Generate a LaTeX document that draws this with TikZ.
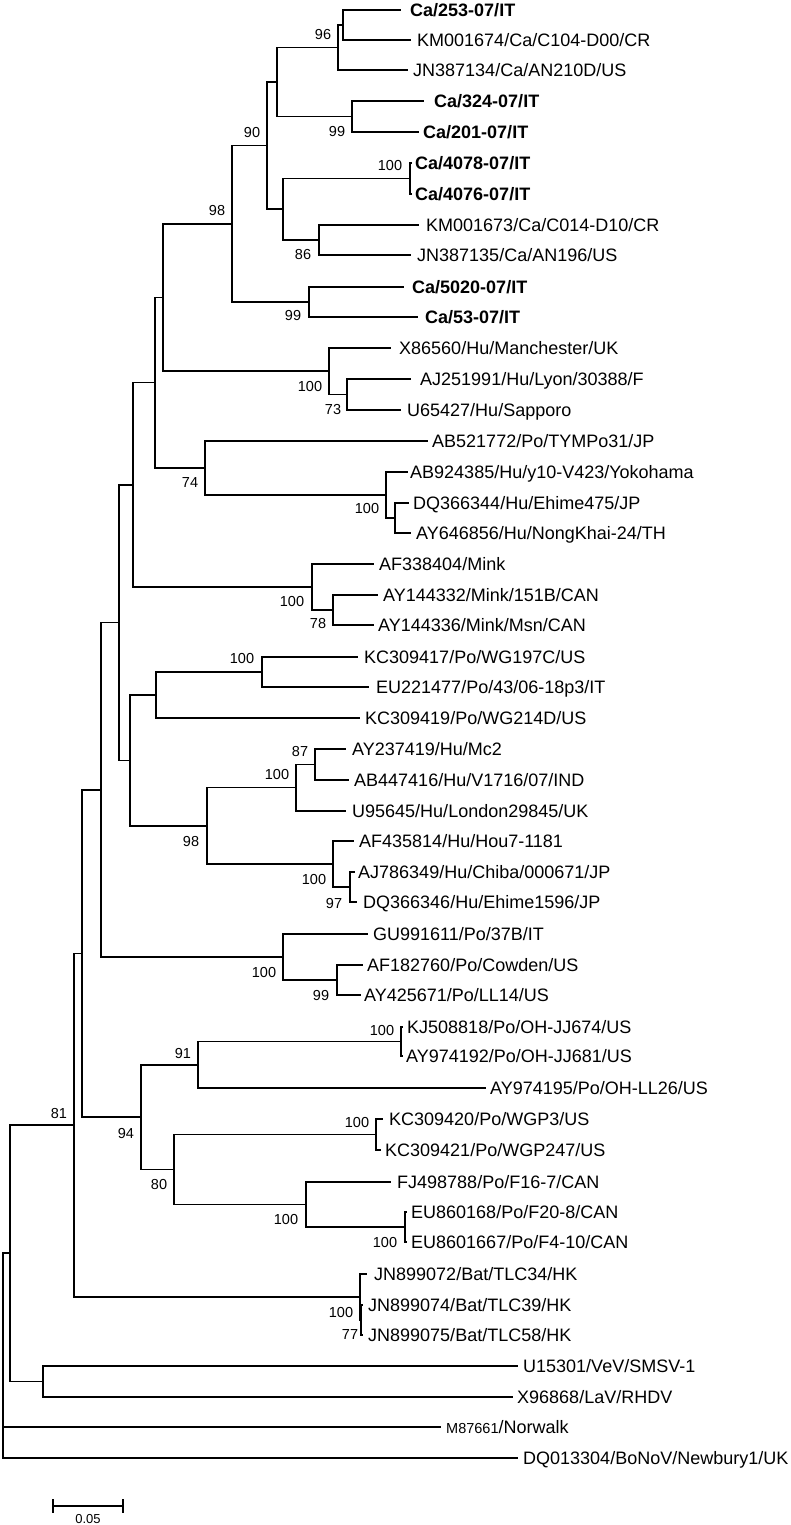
\documentclass[tikz,border=0pt]{standalone}
\usepackage{fontspec}
\setmainfont{Liberation Sans}
\tikzset{
  br/.style={line width=1.2pt, line cap=rect},
  lab/.style={anchor=base west, inner sep=0pt, font=\fontsize{18}{20}\selectfont},
  blab/.style={anchor=base west, inner sep=0pt, font=\fontsize{18}{20}\selectfont\bfseries},
  boot/.style={inner sep=0pt, font=\fontsize{14.5}{16}\selectfont},
}
\newcommand\lf[5]{\coordinate (#1) at (#2,#3);\node[lab] (#1t) at (#4,#3+6.5) {#5};}
\newcommand\blf[5]{\coordinate (#1) at (#2,#3);\node[blab] (#1t) at (#4,#3+6.5) {#5};}
\begin{document}
\begin{tikzpicture}[x=1pt,y=-1pt]
\useasboundingbox (0,0) rectangle (790,1525);
% leaves
\blf{L1}{400}{10}{410}{Ca/253-07/IT}
\lf{L2}{410}{40}{417}{KM001674/Ca/C104-D00/CR}
\lf{L3}{407}{70}{413}{JN387134/Ca/AN210D/US}
\blf{L4}{423}{101}{434}{Ca/324-07/IT}
\blf{L5}{418}{132}{423}{Ca/201-07/IT}
\blf{L6}{411}{163}{415}{Ca/4078-07/IT}
\blf{L7}{411}{194}{415}{Ca/4076-07/IT}
\lf{L8}{418}{225}{426}{KM001673/Ca/C014-D10/CR}
\lf{L9}{410}{255}{417}{JN387135/Ca/AN196/US}
\blf{L10}{403}{287}{412}{Ca/5020-07/IT}
\blf{L11}{417}{317}{425}{Ca/53-07/IT}
\lf{L12}{390}{348}{399}{X86560/Hu/Manchester/UK}
\lf{L13}{410}{379}{420}{AJ251991/Hu/Lyon/30388/F}
\lf{L14}{400}{410}{407}{U65427/Hu/Sapporo}
\lf{L15}{427}{441}{432}{AB521772/Po/TYMPo31/JP}
\lf{L16}{407}{472}{410}{AB924385/Hu/y10-V423/Yokohama}
\lf{L17}{408}{503}{413}{DQ366344/Hu/Ehime475/JP}
\lf{L18}{410}{533}{416}{AY646856/Hu/NongKhai-24/TH}
\lf{L19}{373}{564}{379}{AF338404/Mink}
\lf{L20}{377}{595}{383}{AY144332/Mink/151B/CAN}
\lf{L21}{373}{625}{378}{AY144336/Mink/Msn/CAN}
\lf{L22}{357}{657}{364}{KC309417/Po/WG197C/US}
\lf{L23}{368}{687}{376}{EU221477/Po/43/06-18p3/IT}
\lf{L24}{359}{718}{365}{KC309419/Po/WG214D/US}
\lf{L25}{345}{749}{352}{AY237419/Hu/Mc2}
\lf{L26}{348}{780}{354}{AB447416/Hu/V1716/07/IND}
\lf{L27}{345}{811}{352}{U95645/Hu/London29845/UK}
\lf{L28}{353}{841}{359}{AF435814/Hu/Hou7-1181}
\lf{L29}{354}{872}{358}{AJ786349/Hu/Chiba/000671/JP}
\lf{L30}{356}{902}{363}{DQ366346/Hu/Ehime1596/JP}
\lf{L31}{367}{934}{373}{GU991611/Po/37B/IT}
\lf{L32}{362}{965}{367}{AF182760/Po/Cowden/US}
\lf{L33}{360}{995}{364}{AY425671/Po/LL14/US}
\lf{L34}{402}{1027}{407}{KJ508818/Po/OH-JJ674/US}
\lf{L35}{402}{1056}{406}{AY974192/Po/OH-JJ681/US}
\lf{L36}{485}{1088}{490}{AY974195/Po/OH-LL26/US}
\lf{L37}{382}{1119}{389}{KC309420/Po/WGP3/US}
\lf{L38}{380}{1150}{385}{KC309421/Po/WGP247/US}
\lf{L39}{390}{1182}{397}{FJ498788/Po/F16-7/CAN}
\lf{L40}{406}{1212}{411}{EU860168/Po/F20-8/CAN}
\lf{L41}{406}{1242}{411}{EU8601667/Po/F4-10/CAN}
\lf{L42}{366}{1274}{374}{JN899072/Bat/TLC34/HK}
\lf{L43}{362}{1305}{368}{JN899074/Bat/TLC39/HK}
\lf{L44}{362}{1335}{368}{JN899075/Bat/TLC58/HK}
\lf{L45}{517}{1366}{523}{U15301/VeV/SMSV-1}
\lf{L46}{512}{1397}{517}{X96868/LaV/RHDV}
\lf{L47}{440}{1427}{446}{{\fontsize{14.5}{16}\selectfont M87661}/Norwalk}
\lf{L48}{517}{1458}{523}{DQ013304/BoNoV/Newbury1/UK}
% internal nodes
\coordinate (n253) at (343,25);
\coordinate (n96) at (338,47.5);
\coordinate (n99a) at (352,116.5);
\coordinate (nA) at (277,82);
\coordinate (n100a) at (410,178.5);
\coordinate (n86) at (319,240);
\coordinate (nB) at (283,209);
\coordinate (n90) at (267,145.5);
\coordinate (n99b) at (309,302);
\coordinate (n98a) at (232,224);
\coordinate (n73) at (347,394.5);
\coordinate (n100b) at (329,371);
\coordinate (nC) at (163,297.5);
\coordinate (nYi) at (395,518);
\coordinate (n100c) at (386,495);
\coordinate (n74) at (205,468);
\coordinate (nD) at (155,382.75);
\coordinate (n78) at (333,610);
\coordinate (n100d) at (312,587);
\coordinate (nE) at (133,485);
\coordinate (n100e) at (262,672);
\coordinate (nF) at (156,695);
\coordinate (n87) at (315,764.5);
\coordinate (n100f) at (296,787.75);
\coordinate (n97) at (350,887);
\coordinate (n100g) at (333,864);
\coordinate (n98b) at (207,826);
\coordinate (nG) at (130,760.5);
\coordinate (nH) at (119,622.75);
\coordinate (n99c) at (337,980);
\coordinate (n100h) at (283,957);
\coordinate (nI) at (101,790);
\coordinate (n100i) at (401,1041.5);
\coordinate (n91) at (198,1065);
\coordinate (n100j) at (376,1134.5);
\coordinate (nEU) at (405,1227);
\coordinate (n100k) at (306,1204.5);
\coordinate (n80) at (174,1169.5);
\coordinate (n94) at (141,1117);
\coordinate (nJ) at (82,953.5);
\coordinate (n77) at (361,1320);
\coordinate (n100l) at (360,1297);
\coordinate (n81) at (74,1125);
\coordinate (nK) at (43,1381.5);
\coordinate (nL) at (10,1253);
\coordinate (root) at (3,1355);
% edges
\foreach \p/\c in {n253/L1,n253/L2,n96/n253,n96/L3,n99a/L4,n99a/L5,nA/n96,nA/n99a,
  n100a/L6,n100a/L7,n86/L8,n86/L9,nB/n100a,nB/n86,n90/nA,n90/nB,n99b/L10,n99b/L11,
  n98a/n90,n98a/n99b,n73/L13,n73/L14,n100b/L12,n100b/n73,nC/n98a,nC/n100b,
  nYi/L17,nYi/L18,n100c/L16,n100c/nYi,n74/L15,n74/n100c,nD/nC,nD/n74,
  n78/L20,n78/L21,n100d/L19,n100d/n78,nE/nD,nE/n100d,
  n100e/L22,n100e/L23,nF/n100e,nF/L24,n87/L25,n87/L26,n100f/n87,n100f/L27,
  n97/L29,n97/L30,n100g/L28,n100g/n97,n98b/n100f,n98b/n100g,nG/nF,nG/n98b,
  nH/nE,nH/nG,n99c/L32,n99c/L33,n100h/L31,n100h/n99c,nI/nH,nI/n100h,
  n100i/L34,n100i/L35,n91/n100i,n91/L36,n100j/L37,n100j/L38,nEU/L40,nEU/L41,
  n100k/L39,n100k/nEU,n80/n100j,n80/n100k,n94/n91,n94/n80,nJ/nI,nJ/n94,
  n77/L43,n77/L44,n100l/L42,n100l/n77,n81/nJ,n81/n100l,nK/L45,nK/L46,
  nL/n81,nL/nK,root/nL,root/L47,root/L48}
  {\draw[br] (\p) |- (\c);}
% bootstrap values
\node[boot] (b1) at (323,35) {96};
\node[boot] (b2) at (337,132) {99};
\node[boot] (b3) at (252,133) {90};
\node[boot] (b4) at (390,166) {100};
\node[boot] (b5) at (217,211) {98};
\node[boot] (b6) at (303,255) {86};
\node[boot] (b7) at (293,316) {99};
\node[boot] (b8) at (310,387) {100};
\node[boot] (b9) at (333,410) {73};
\node[boot] (b10) at (190,483) {74};
\node[boot] (b11) at (367,509) {100};
\node[boot] (b12) at (292,602) {100};
\node[boot] (b13) at (318,624) {78};
\node[boot] (b14) at (242,659) {100};
\node[boot] (b15) at (300,752) {87};
\node[boot] (b16) at (277,775) {100};
\node[boot] (b17) at (191,841) {98};
\node[boot] (b18) at (314,879) {100};
\node[boot] (b19) at (334,903) {97};
\node[boot] (b20) at (264,972) {100};
\node[boot] (b21) at (321,995) {99};
\node[boot] (b22) at (382,1030) {100};
\node[boot] (b23) at (183,1053) {91};
\node[boot] (b24) at (59,1113) {81};
\node[boot] (b25) at (126,1133) {94};
\node[boot] (b26) at (357,1122) {100};
\node[boot] (b27) at (159,1184) {80};
\node[boot] (b28) at (286,1219) {100};
\node[boot] (b29) at (385,1242) {100};
\node[boot] (b30) at (341,1312) {100};
\node[boot] (b31) at (350,1334) {77};
% scale bar
\coordinate (sb1) at (53,1506);
\coordinate (sb2) at (123,1506);
\draw[br] (sb1) -- (sb2);
\draw[br] (53,1500) -- (53,1512);
\draw[br] (123,1500) -- (123,1512);
\node[inner sep=0pt, font=\fontsize{13}{15}\selectfont] (sbl) at (88,1519) {0.05};
\end{tikzpicture}
\end{document}
